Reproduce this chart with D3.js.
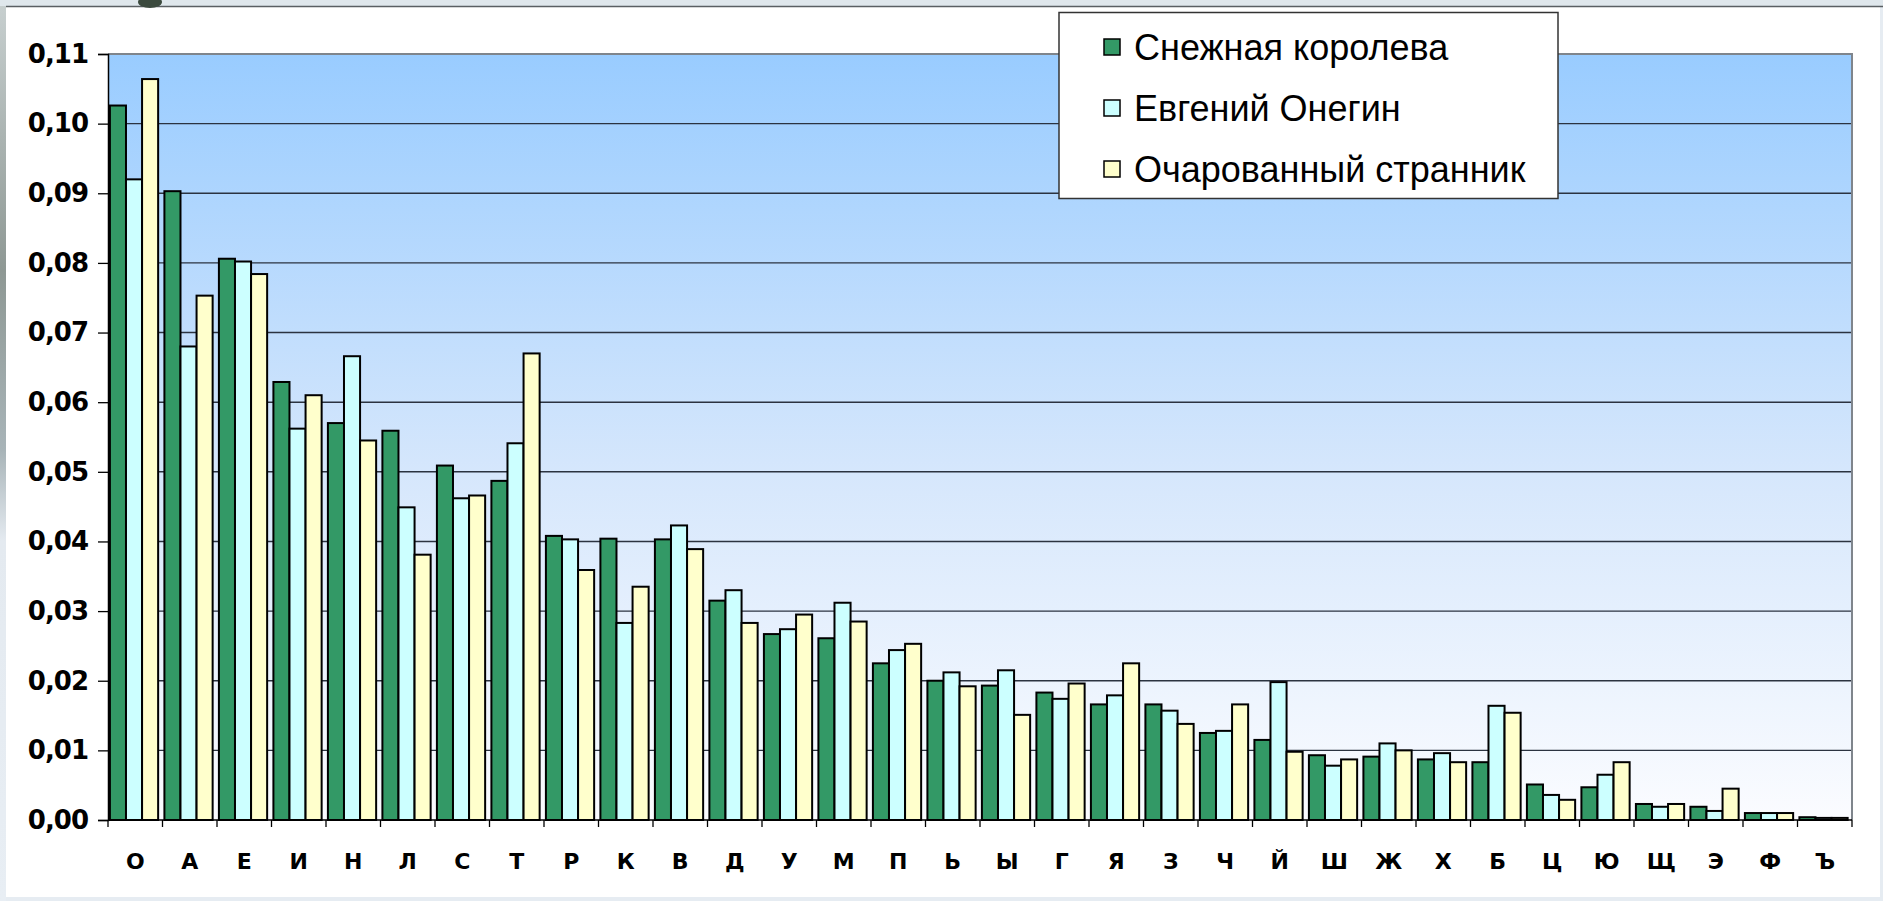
<!DOCTYPE html>
<html>
<head>
<meta charset="utf-8">
<script src="https://cdn.jsdelivr.net/npm/d3@7"></script>
<style>
  body { margin: 0; background: #e6ecf2; }
  svg { display: block; }
</style>
</head>
<body>
<div id="chart"></div>
<script>
// letter frequencies in three texts
var letters = ["О","А","Е","И","Н","Л","С","Т","Р","К","В","Д","У","М","П","Ь",
               "Ы","Г","Я","З","Ч","Й","Ш","Ж","Х","Б","Ц","Ю","Щ","Э","Ф","Ъ"];

var snowQueen = [0.1026, 0.0903, 0.0806, 0.0629, 0.0570, 0.0559, 0.0509, 0.0487,
                 0.0408, 0.0404, 0.0403, 0.0315, 0.0267, 0.0261, 0.0225, 0.0200,
                 0.0193, 0.0183, 0.0166, 0.0166, 0.0125, 0.0115, 0.0093, 0.0091,
                 0.0087, 0.0083, 0.0051, 0.0047, 0.0023, 0.0019, 0.0010, 0.0004];

var onegin =    [0.0920, 0.0680, 0.0802, 0.0562, 0.0666, 0.0449, 0.0462, 0.0541,
                 0.0403, 0.0283, 0.0423, 0.0330, 0.0274, 0.0312, 0.0244, 0.0212,
                 0.0215, 0.0174, 0.0179, 0.0157, 0.0128, 0.0198, 0.0078, 0.0110,
                 0.0096, 0.0164, 0.0036, 0.0065, 0.0019, 0.0013, 0.0010, 0.0003];

var wanderer =  [0.1064, 0.0753, 0.0784, 0.0610, 0.0545, 0.0381, 0.0466, 0.0670,
                 0.0359, 0.0335, 0.0389, 0.0283, 0.0295, 0.0285, 0.0253, 0.0192,
                 0.0151, 0.0196, 0.0225, 0.0138, 0.0166, 0.0098, 0.0087, 0.0100,
                 0.0083, 0.0154, 0.0029, 0.0083, 0.0023, 0.0045, 0.0010, 0.0003];

var seriesNames = ["Снежная королева", "Евгений Онегин", "Очарованный странник"];
var seriesColors = ["#339966", "#ccffff", "#ffffcc"];
var yTicks = [0, 0.01, 0.02, 0.03, 0.04, 0.05, 0.06, 0.07, 0.08, 0.09, 0.10, 0.11];

var series = [snowQueen, onegin, wanderer];

var width = 1883, height = 901;
var margin = { top: 54, left: 108, right: 31, bottom: 81 };

var svg = d3.select("#chart").append("svg")
            .attr("width", width)
            .attr("height", height);

// slide frame around the chart
svg.append("rect")
   .attr("x", 6).attr("y", 7)
   .attr("width", 1874).attr("height", 890)
   .attr("fill", "#ffffff");

var frame = svg.append("defs");
var sideGrad = frame.append("linearGradient")
                    .attr("id", "side")
                    .attr("x1", 0).attr("y1", 0).attr("x2", 0).attr("y2", 1);
sideGrad.append("stop").attr("offset", "0%").attr("stop-color", "#c8d0d0");
sideGrad.append("stop").attr("offset", "30%").attr("stop-color", "#8e9894");
sideGrad.append("stop").attr("offset", "50%").attr("stop-color", "#a8b4b8");
sideGrad.append("stop").attr("offset", "60%").attr("stop-color", "#e4eaf0");
sideGrad.append("stop").attr("offset", "100%").attr("stop-color", "#e8eef4");

svg.append("rect")
   .attr("x", 0).attr("y", 0)
   .attr("width", 6).attr("height", height)
   .attr("fill", "url(#side)");

svg.append("rect")
   .attr("x", 0).attr("y", 0)
   .attr("width", width).attr("height", 6)
   .attr("fill", "#dfe7ec");

svg.append("line")
   .attr("x1", 6).attr("x2", width)
   .attr("y1", 6.5).attr("y2", 6.5)
   .attr("stroke", "#5a5f63")
   .attr("stroke-width", 1.5);

svg.append("ellipse")
   .attr("cx", 150).attr("cy", 2)
   .attr("rx", 12).attr("ry", 6)
   .attr("fill", "#3c4a3e");

var plotGrad = frame.append("linearGradient")
                    .attr("id", "plotbg")
                    .attr("x1", 0).attr("y1", 0).attr("x2", 0).attr("y2", 1);
plotGrad.append("stop").attr("offset", "0%").attr("stop-color", "#99ccff");
plotGrad.append("stop").attr("offset", "55%").attr("stop-color", "#d6e7fc");
plotGrad.append("stop").attr("offset", "100%").attr("stop-color", "#fbfcff");

var x0 = margin.left, x1 = width - margin.right;
var yBase = height - margin.bottom;

var x = d3.scaleBand()
          .domain(letters)
          .range([x0, x1])
          .padding(0);

var y = d3.scaleLinear()
          .domain([0, 0.11])
          .range([yBase, margin.top]);

var ru = d3.formatLocale({ decimal: ",", thousands: " ", grouping: [3], currency: ["", ""] });
var fmt = ru.format(".2f");

// plot background
svg.append("rect")
   .attr("x", x0).attr("y", y(0.11))
   .attr("width", x1 - x0).attr("height", yBase - y(0.11))
   .attr("fill", "url(#plotbg)");

// grid lines
svg.append("g")
   .selectAll("line")
   .data(yTicks.filter(d => d > 0 && d < 0.11))
   .enter().append("line")
   .attr("x1", x0).attr("x2", x1)
   .attr("y1", d => y(d)).attr("y2", d => y(d))
   .attr("stroke", "#2b3340")
   .attr("stroke-width", 1.4);

// top and right border of plot
svg.append("path")
   .attr("d", "M" + x0 + "," + y(0.11) + "H" + x1 + "V" + yBase)
   .attr("fill", "none")
   .attr("stroke", "#7f858c")
   .attr("stroke-width", 2);

// bars
var step = x.step();
var barW = step * 0.295;
var offset = step * 0.035;

series.forEach((vals, si) => {
  svg.append("g")
     .selectAll("rect")
     .data(vals)
     .enter().append("rect")
     .attr("x", (d, i) => x(letters[i]) + offset + si * barW)
     .attr("y", d => y(d))
     .attr("width", barW)
     .attr("height", d => yBase - y(d))
     .attr("fill", seriesColors[si])
     .attr("stroke", "#000")
     .attr("stroke-width", 2);
});

// y axis
var yAxis = d3.axisLeft(y)
              .tickValues(yTicks)
              .tickFormat(d => fmt(d))
              .tickSize(10)
              .tickPadding(10);

var gy = svg.append("g")
            .attr("transform", "translate(" + x0 + ",0)")
            .call(yAxis);
gy.select(".domain").attr("stroke", "#000").attr("stroke-width", 1.5);
gy.selectAll(".tick line").attr("stroke", "#000").attr("stroke-width", 1.3);
gy.selectAll(".tick text")
  .attr("font-family", "DejaVu Sans, Verdana, sans-serif")
  .attr("font-weight", "bold")
  .attr("font-size", 26)
  .attr("letter-spacing", -1)
  .attr("fill", "#000");

// x axis line and ticks between categories
svg.append("line")
   .attr("x1", x0).attr("x2", x1)
   .attr("y1", yBase).attr("y2", yBase)
   .attr("stroke", "#000")
   .attr("stroke-width", 1.5);

svg.append("g")
   .selectAll("line")
   .data(letters.concat(["end"]))
   .enter().append("line")
   .attr("x1", (d, i) => x0 + i * step)
   .attr("x2", (d, i) => x0 + i * step)
   .attr("y1", yBase).attr("y2", yBase + 7)
   .attr("stroke", "#000")
   .attr("stroke-width", 1.3);

svg.append("g")
   .selectAll("text")
   .data(letters)
   .enter().append("text")
   .attr("x", d => x(d) + step / 2)
   .attr("y", yBase + 43)
   .attr("text-anchor", "middle")
   .attr("dominant-baseline", "middle")
   .attr("font-family", "DejaVu Sans, Verdana, sans-serif")
   .attr("font-weight", "bold")
   .attr("font-size", 22)
   .text(d => d);

// legend
var legend = svg.append("g").attr("class", "legend");
legend.append("rect")
      .attr("x", 1059).attr("y", 12.5)
      .attr("width", 499).attr("height", 186)
      .attr("fill", "#fff")
      .attr("stroke", "#333")
      .attr("stroke-width", 1.5);

var item = legend.selectAll("g.item")
                 .data(seriesNames)
                 .enter().append("g")
                 .attr("class", "item")
                 .attr("transform", (d, i) => "translate(1104," + (47 + i * 61) + ")");

item.append("rect")
    .attr("x", 0).attr("y", -8)
    .attr("width", 16).attr("height", 16)
    .attr("fill", (d, i) => seriesColors[i])
    .attr("stroke", "#000")
    .attr("stroke-width", 1.5);

item.append("text")
    .attr("x", 30)
    .attr("y", 0)
    .attr("dominant-baseline", "central")
    .attr("font-family", "Liberation Sans, Arial, sans-serif")
    .attr("font-size", 36)
    .text(d => d);
</script>
</body>
</html>
